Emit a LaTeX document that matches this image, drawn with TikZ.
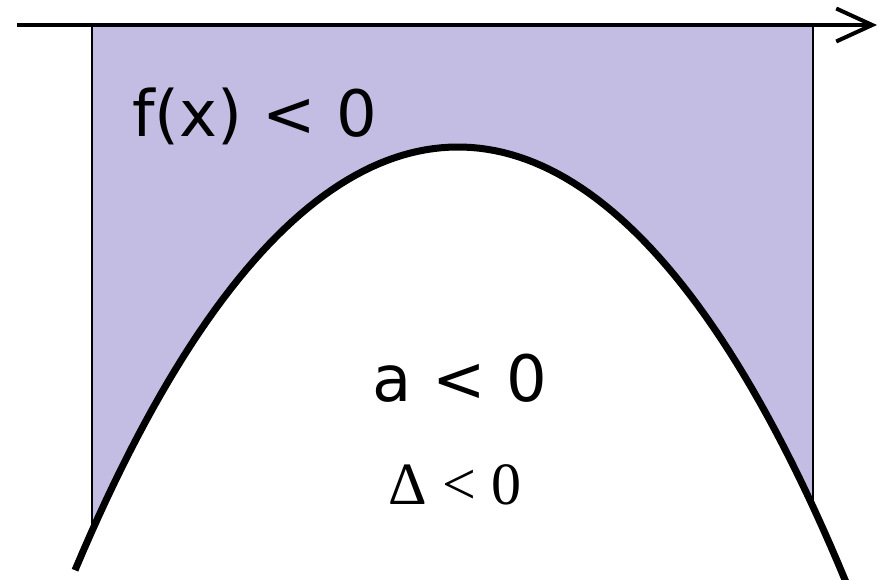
\documentclass[tikz,border=0pt]{standalone}
\usepackage{fontspec}
\setmainfont{Liberation Serif}
\newfontfamily\verdfont{DejaVu Sans}
\usetikzlibrary{arrows.meta}
\definecolor{cRegion}{HTML}{C4BDE3}

\begin{document}
\begin{tikzpicture}[x=1pt, y=-1pt,
    declare function={py(\x)=147+26.68*((\x-458)/100)^2+0.148*((\x-458)/100)^4;},
    axis/.style={line width=4.5pt, -{Straight Barb[length=36pt, width=33pt, line width=4pt]}},
    curve/.style={line width=7pt},
    edge/.style={line width=1.5pt},
    lbl/.style={font=\verdfont\fontsize{64}{66}\selectfont, anchor=base}
]
\useasboundingbox (0,0) rectangle (886,580);

% shaded region above the parabola
\fill[cRegion] (92,25) -- plot[domain=92:813, samples=80] (\x,{py(\x)}) -- (813,25) -- cycle;

\coordinate (lt) at (92,25);
\coordinate (lb) at (92,{py(92)});
\coordinate (rt) at (813,25);
\coordinate (rb) at (813,{py(813)});
\draw[edge] (lt) -- (lb);
\draw[edge] (rt) -- (rb);

\draw[curve] plot[domain=75:846, samples=100] (\x,{py(\x)});

\coordinate (ax0) at (17,25);
\coordinate (ax1) at (877,25);
\draw[axis] (ax0) -- (ax1);

\node[lbl] (fx) at (255,137) {f(x) < 0};
\node[lbl] (acond) at (460,401) {a < 0};
\node[anchor=base, font=\fontsize{60}{62}\selectfont] (dcond) at (455,504) {Δ < 0};
\end{tikzpicture}
\end{document}
